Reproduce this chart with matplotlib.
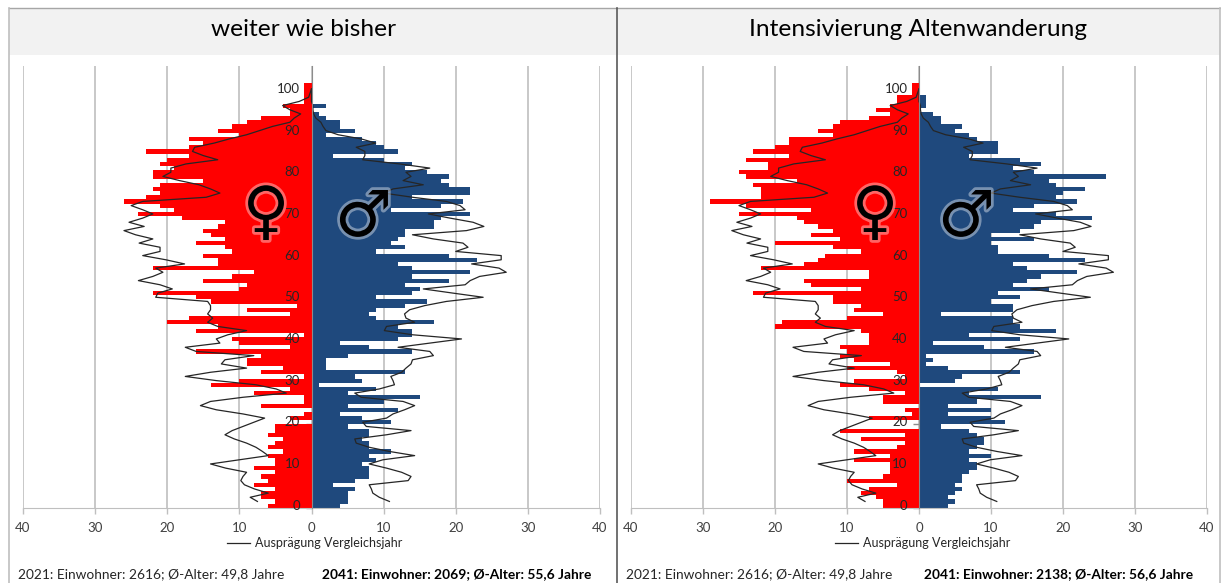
import numpy as np
import matplotlib
matplotlib.use('Agg')
import matplotlib.pyplot as plt
import matplotlib.patheffects as pe

W, H = 1221, 583
plt.rcParams['font.family'] = ['Lato', 'DejaVu Sans']

ages = list(range(101, -1, -1))
line_ages = list(range(100, 0, -1))

# persons per age, oldest first (101 ... 0)
female_a = [1, 1, 1, 1, 1, 4, 3, 3, 7, 9, 11, 13, 10, 17, 15, 17, 23, 17, 20, 21,
            19, 22, 22, 15, 21, 22, 21, 23, 26, 21, 19, 24, 18, 12, 13, 15, 14, 12, 16, 12,
            11, 15, 13, 13, 22, 8, 11, 15, 9, 10, 22, 16,
            14, 2, 9, 3, 17, 20, 13, 16, 1, 11, 10, 3, 16, 7, 9, 9, 4, 7, 1, 10,
            14, 3, 8, 1, 1, 7, 0, 1, 3, 0, 5, 5, 6, 4, 5, 6, 4, 6, 5, 5,
            8, 5, 7, 6, 8, 5, 7, 7, 5, 6]
male_a = [0, 0, 0, 0, 0, 2, 0, 1, 2, 4, 4, 6, 2, 7, 9, 10, 12, 3, 10, 14,
          13, 16, 19, 18, 19, 22, 22, 14, 21, 18, 11, 22, 18, 17, 17, 13, 13, 12, 11, 13,
          9, 19, 23, 12, 14, 22, 14, 19, 13, 15, 14, 9,
          16, 13, 9, 8, 9, 17, 12, 14, 14, 12, 4, 8, 14, 5, 2, 2, 2, 13, 6, 7,
          1, 9, 5, 15, 10, 5, 12, 4, 7, 11, 5, 8, 8, 7, 8, 8, 11, 8, 9, 7,
          8, 8, 8, 6, 3, 6, 5, 5, 5, 4]
female_b = [1, 1, 1, 3, 3, 4, 6, 4, 7, 11, 12, 14, 12, 18, 18, 20, 23, 18, 24, 21,
            21, 25, 24, 17, 23, 22, 22, 22, 29, 24, 15, 25, 17, 16, 14, 12, 15, 11, 20, 12,
            8, 13, 14, 16, 22, 7, 7, 16, 15, 8, 23, 12,
            12, 8, 9, 5, 10, 19, 20, 8, 7, 7, 7, 11, 10, 11, 9, 4, 10, 3, 2, 9,
            11, 7, 2, 5, 5, 0, 2, 1, 7, 0, 0, 11, 2, 8, 2, 3, 9, 4, 9, 4,
            4, 4, 5, 10, 3, 7, 8, 6, 5, 5]
male_b = [0, 0, 0, 1, 1, 1, 0, 2, 3, 3, 6, 5, 7, 8, 11, 11, 11, 7, 14, 17,
          13, 16, 26, 18, 19, 23, 20, 19, 22, 16, 13, 19, 24, 17, 16, 14, 10, 16, 10, 11,
          11, 18, 23, 13, 15, 22, 17, 15, 13, 18, 11, 14,
          10, 13, 13, 3, 13, 13, 14, 19, 7, 14, 2, 9, 16, 1, 2, 1, 4, 14, 6, 5,
          0, 11, 7, 17, 8, 4, 10, 4, 10, 12, 3, 7, 8, 9, 9, 8, 7, 10, 7, 8,
          8, 7, 6, 6, 5, 6, 5, 4, 5, 4]

# comparison year 2021, ages 100 ... 1
female_line = [0, 0.2, 0.4, 1.7, 4, 3, 1.5, 2.4, 3, 5.4, 7.2, 9, 11.4, 13.5, 16.2, 16.5, 15, 13, 17.4, 19.5,
               19.5, 20.6, 18.3, 15.6, 14, 12.7, 14.6, 23.4, 25, 23.4, 22, 23.4, 25.3, 23.2, 26, 24.4, 22, 23.9, 21, 21,
               23.4, 20.2, 17.6, 21.6, 20.6, 22, 24, 21, 19.3, 21.3, 21.6, 14.4, 14, 14, 14.4, 13.7, 14.4, 13, 9, 11.6,
               13.2, 12.7, 17.5, 16, 8, 12, 12.5, 9, 14, 17.5, 13.2, 7.7, 4.9, 3.5, 9.5, 14, 15.4, 13.2, 9.5, 6.5,
               8, 9.5, 11, 12, 10.7, 9, 7.7, 6.8, 6, 10, 14, 11.9, 9, 9.5, 9.8, 9.3, 7.9, 6, 8.5, 7.5]
male_line = [0, 0, 0, 0, 0.2, 0.2, 0.3, 0.6, 1.3, 1.6, 2, 3.7, 6.9, 8.9, 6.2, 7.4, 7.4, 7.1, 12.2, 16.4,
             13.1, 13.8, 12.7, 15.5, 11.3, 10, 14, 18.7, 20.6, 21.3, 16.2, 19.2, 22.4, 23.9, 21.5, 14, 16.9, 21, 21.7, 20,
             26.3, 26.3, 22.2, 26, 27, 23.3, 22, 21.3, 15.5, 19.6, 23.8, 18.7, 15.7, 13.6, 12.9, 13.1, 14.3, 10.4, 10.1, 14,
             20.8, 16.4, 12, 16.4, 16.9, 14, 13.8, 13.1, 12.5, 11, 11.3, 11.5, 9.4, 6, 6.9, 12.7, 14.3, 12.9, 11.3, 10.4,
             7.1, 7.6, 13.8, 10.4, 6, 6.2, 8, 10.8, 14.3, 9.9, 8, 10.4, 12.5, 13.8, 13.4, 8, 8.3, 8.5, 9.4, 10.8]

titles = ['weiter wie bisher', 'Intensivierung Altenwanderung']
foot_2021 = ['2021: Einwohner: 2616; Ø-Alter: 49,8 Jahre', '2021: Einwohner: 2616; Ø-Alter: 49,8 Jahre']
foot_2041 = ['2041: Einwohner: 2069; Ø-Alter: 55,6 Jahre', '2041: Einwohner: 2138; Ø-Alter: 56,6 Jahre']
x_ticks = [-40, -30, -20, -10, 0, 10, 20, 30, 40]
x_labels = ['40', '30', '20', '10', '0', '10', '20', '30', '40']
age_ticks = [0, 10, 20, 30, 40, 50, 60, 70, 80, 90, 100]
legend_text = 'Ausprägung Vergleichsjahr'

RED = '#ff0000'
BLUE = '#1f497d'
GRID = '#bfbfbf'
TEXT = '#262626'


def fx(px):
    return px / W


def fy(py):
    return 1 - py / H


fig = plt.figure(figsize=(W / 100, H / 100), dpi=100, facecolor='white')

# panel frames and title strips
for x0, x1 in [(9, 616), (617, 1220)]:
    fig.add_artist(plt.Rectangle((fx(x0), fy(55)), fx(x1 - x0), 47 / H, transform=fig.transFigure,
                                 facecolor='#f2f2f2', edgecolor='none'))
fig.add_artist(plt.Line2D([fx(9), fx(1220)], [fy(8), fy(8)], color='#a6a6a6', lw=1))
for px, c in [(9, '#bfbfbf'), (616.5, '#595959'), (1220, '#bfbfbf')]:
    fig.add_artist(plt.Line2D([fx(px), fx(px)], [fy(8), 0], color=c, lw=1.2))

panels = [
    dict(left=23, right=600, zero=312, female=female_a, male=male_a, title_x=304, foot=(18, 322), leg=227,
         f_pos=266, m_pos=363.5),
    dict(left=631, right=1207, zero=919, female=female_b, male=male_b, title_x=918, foot=(626, 924), leg=835,
         f_pos=875, m_pos=966.5),
]

for i, p in enumerate(panels):
    ax = fig.add_axes([fx(p['left']), fy(507.7), fx(p['right'] - p['left']), (507.7 - 66) / H])
    ax.set_xlim(-40, 40)
    ax.set_ylim(-0.45, 105.5)
    ax.patch.set_alpha(0)

    ax.barh(ages, [-v for v in p['female']], height=1.0, color=RED, zorder=2)
    ax.barh(ages, p['male'], height=1.0, color=BLUE, zorder=2)
    ax.plot([-v for v in female_line], line_ages, color='#262626', lw=0.9, zorder=3)
    ax.plot(male_line, line_ages, color='#262626', lw=0.9, zorder=3)

    for s in ['top', 'right']:
        ax.spines[s].set_visible(False)
    ax.spines['left'].set_position(('data', 0))
    ax.spines['left'].set_color('#8c8c8c')
    ax.spines['left'].set_zorder(4)
    ax.spines['bottom'].set_color(GRID)
    ax.set_xticks(x_ticks)
    ax.set_xticklabels(x_labels, fontsize=9.5, color='#404040')
    ax.tick_params(axis='x', length=4, width=1, color=GRID, pad=6)
    ax.set_yticks([a - 0.5 for a in age_ticks])
    ax.set_yticklabels([])
    ax.tick_params(axis='y', length=4, width=1, color='#8c8c8c', direction='out')
    ax.grid(axis='x', color=GRID, lw=1.2, zorder=0)
    ax.set_axisbelow(True)

    for a in age_ticks:
        ax.text(-1.6, a, str(a), ha='right', va='center', fontsize=9.5, color=TEXT, zorder=5)

    # sex symbols
    glow = [pe.withStroke(linewidth=4, foreground='#ffffff', alpha=0.4)]
    fig.text(fx(p['f_pos']), fy(214), '\u2640', family='DejaVu Sans', fontsize=46, color='black',
             ha='center', va='center', path_effects=glow, zorder=6)
    fig.text(fx(p['m_pos']), fy(218), '\u2642', family='DejaVu Sans', fontsize=46, color='black',
             ha='center', va='center', path_effects=glow, zorder=6)

    fig.text(fx(p['title_x']), fy(29), titles[i], ha='center', va='center', fontsize=17.6, color='black')
    fig.add_artist(plt.Line2D([fx(p['leg']), fx(p['leg'] + 23)], [fy(543), fy(543)], color='#262626', lw=0.9))
    fig.text(fx(p['leg'] + 28), fy(543), legend_text, ha='left', va='center', fontsize=9, color=TEXT)
    fig.text(fx(p['foot'][0]), fy(574), foot_2021[i], ha='left', va='center', fontsize=9.9, color=TEXT)
    fig.text(fx(p['foot'][1]), fy(574), foot_2041[i], ha='left', va='center', fontsize=9.9,
             color='black', fontweight='bold')

fig.savefig('out.png', dpi=100)
